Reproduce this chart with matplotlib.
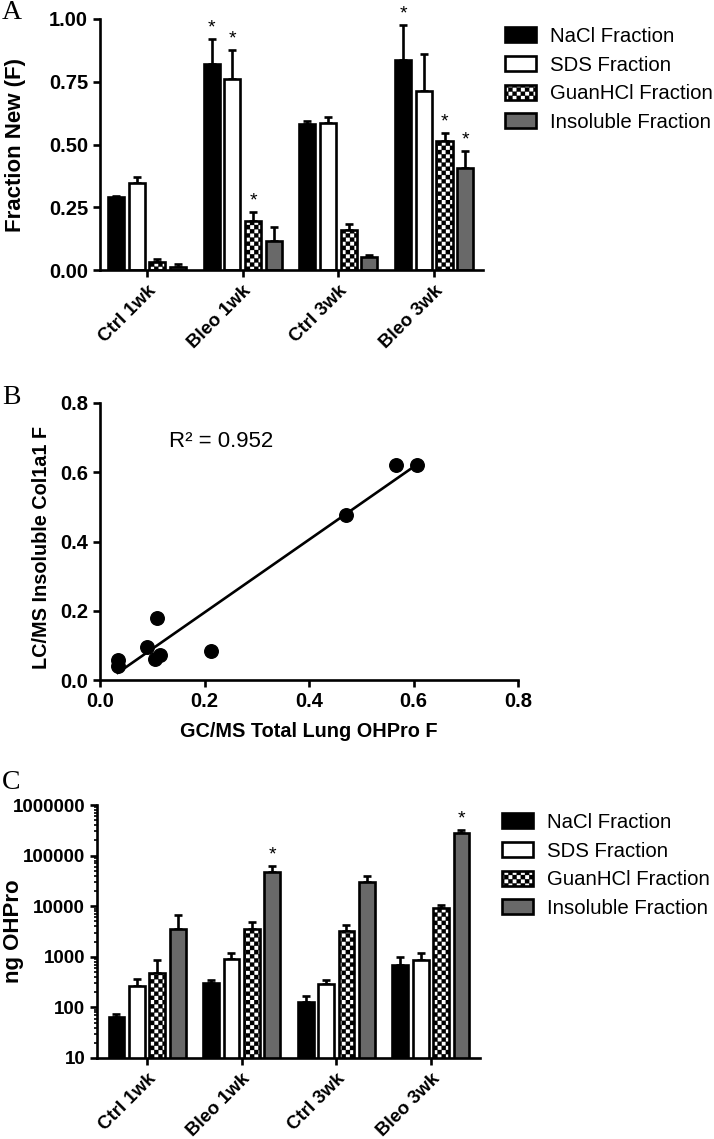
import numpy as np
import matplotlib
matplotlib.use("Agg")
import matplotlib.pyplot as plt
import matplotlib.hatch as mhatch
from matplotlib.path import Path
from matplotlib.ticker import FixedLocator, FuncFormatter, LogLocator, NullFormatter

# ---------------- data ----------------
groups = ["Ctrl 1wk", "Bleo 1wk", "Ctrl 3wk", "Bleo 3wk"]
fractions = ["NaCl Fraction", "SDS Fraction", "GuanHCl Fraction", "Insoluble Fraction"]

# Panel A: fraction new (F)
a_nacl = [0.29, 0.82, 0.58, 0.835]
a_sds = [0.345, 0.76, 0.585, 0.715]
a_guan = [0.03, 0.195, 0.16, 0.515]
a_insol = [0.012, 0.115, 0.052, 0.405]
a_nacl_err = [0.005, 0.10, 0.015, 0.14]
a_sds_err = [0.025, 0.115, 0.025, 0.145]
a_guan_err = [0.012, 0.035, 0.022, 0.03]
a_insol_err = [0.01, 0.055, 0.008, 0.07]
a_sig = [[False, True, False, True],   # NaCl
         [False, True, False, False],  # SDS
         [False, True, False, True],   # GuanHCl
         [False, False, False, True]]  # Insoluble

# Panel B: scatter
b_x = [0.034, 0.034, 0.09, 0.105, 0.114, 0.109, 0.213, 0.47, 0.566, 0.606]
b_y = [0.040, 0.058, 0.095, 0.062, 0.073, 0.178, 0.085, 0.476, 0.622, 0.620]
b_r2 = 0.952

# Panel C: ng OHPro
c_nacl = [65, 300, 125, 680]
c_sds = [270, 920, 295, 850]
c_guan = [470, 3600, 3200, 9300]
c_insol = [3500, 48000, 29500, 275000]
c_nacl_err = [10, 50, 40, 300]
c_sds_err = [100, 250, 50, 320]
c_guan_err = [380, 1200, 1100, 1500]
c_insol_err = [3300, 15000, 10000, 40000]
c_sig = [[False, False, False, False],
         [False, False, False, False],
         [False, False, False, False],
         [False, True, False, True]]

c_ticks = [10, 100, 1000, 10000, 100000, 1000000]


# ---------------- checkerboard hatch ----------------
class CheckerHatch(mhatch.HatchPatternBase):
    def __init__(self, hatch, density):
        self.n = 24 if "x" in hatch else 0
        self.num_vertices = (self.n * self.n // 2) * 5

    def set_vertices_and_codes(self, vertices, codes):
        s = 1.0 / self.n
        vs = []
        for i in range(self.n):
            for j in range(self.n):
                if (i + j) % 2 == 0:
                    x0, y0 = i * s, j * s
                    vs += [(x0, y0), (x0 + s, y0), (x0 + s, y0 + s), (x0, y0 + s), (x0, y0)]
        vertices[:] = np.array(vs)
        codes[:] = np.tile([Path.MOVETO, Path.LINETO, Path.LINETO, Path.LINETO, Path.CLOSEPOLY],
                           len(vs) // 5)


mhatch._hatch_types = [CheckerHatch]

plt.rcParams["font.family"] = ["Liberation Sans", "DejaVu Sans"]
plt.rcParams["font.weight"] = "bold"
plt.rcParams["hatch.linewidth"] = 0.2
plt.rcParams["hatch.color"] = "black"

W, H = 714, 1139
fig = plt.figure(figsize=(W / 100, H / 100), dpi=100)

LW = 1.9
styles = [dict(color="black", hatch=None),
          dict(color="white", hatch=None),
          dict(color="white", hatch="x"),
          dict(color="#696969", hatch=None)]


def ax_rect(l, t, r, b):
    return [l / W, 1 - b / H, (r - l) / W, (b - t) / H]


def style_axes(ax):
    for s in ["top", "right"]:
        ax.spines[s].set_visible(False)
    for s in ["left", "bottom"]:
        ax.spines[s].set_linewidth(LW)
    ax.tick_params(which="major", width=LW, length=5, direction="out")


def bar_panel(ax, series, errs, sigs):
    x = np.arange(len(groups))
    pitch = 0.216
    width = 0.168
    handles = []
    for k, (vals, err) in enumerate(zip(series, errs)):
        pos = x + (k - 1.5) * pitch
        st = styles[k]
        ax.errorbar(pos, vals, yerr=[np.zeros(len(vals)), err], fmt="none",
                    ecolor="black", elinewidth=LW, capsize=2.9, capthick=LW, zorder=1)
        b = ax.bar(pos, vals, width=width, color=st["color"], edgecolor="black",
                   linewidth=LW, hatch=st["hatch"], zorder=2, label=fractions[k])
        handles.append(b)
        for i in range(len(vals)):
            if sigs[k][i]:
                ax.annotate("*", (pos[i], vals[i] + err[i]), xytext=(0, 2),
                            textcoords="offset points", ha="center", va="bottom",
                            fontsize=14, fontweight="normal")
    ax.set_xticks(x)
    ax.set_xticklabels(groups, rotation=45, ha="right", va="top",
                       rotation_mode="anchor", fontsize=13.5, fontweight="bold")
    ax.tick_params(axis="x", pad=4)
    return handles


leg_kw = dict(loc="upper left", frameon=False,
              prop={"size": 14.7, "weight": "normal"},
              handlelength=1.5, handleheight=0.75, handletextpad=0.7,
              labelspacing=0.47, borderpad=0, borderaxespad=0)

# ---------------- Panel A ----------------
axA = fig.add_axes(ax_rect(100, 19, 483, 270))
style_axes(axA)
hA = bar_panel(axA, [a_nacl, a_sds, a_guan, a_insol],
               [a_nacl_err, a_sds_err, a_guan_err, a_insol_err], a_sig)
axA.set_xlim(-0.49, 3.51)
axA.set_ylim(0, 1.0)
axA.set_yticks([0, 0.25, 0.5, 0.75, 1.0])
axA.yaxis.set_major_formatter(FuncFormatter(lambda v, p: f"{v:.2f}"))
axA.tick_params(axis="y", labelsize=14.5)
axA.set_ylabel("Fraction New (F)", fontsize=16, fontweight="bold")
axA.yaxis.set_label_coords(-0.193, 0.5)
fig.legend(handles=hA, labels=fractions, bbox_to_anchor=(505 / W, 1 - 27 / H), **leg_kw)

# ---------------- Panel B ----------------
axB = fig.add_axes(ax_rect(100, 403, 518, 680))
style_axes(axB)
axB.scatter(b_x, b_y, s=95, color="black", zorder=3, clip_on=False)
slope, icpt = np.polyfit(b_x, b_y, 1)
xl = np.array([min(b_x), max(b_x)])
axB.plot(xl, slope * xl + icpt, color="black", lw=LW, zorder=2)
axB.set_xlim(0, 0.8)
axB.set_ylim(0, 0.8)
axB.set_xticks([0, 0.2, 0.4, 0.6, 0.8])
axB.set_yticks([0, 0.2, 0.4, 0.6, 0.8])
axB.xaxis.set_major_formatter(FuncFormatter(lambda v, p: f"{v:.1f}"))
axB.yaxis.set_major_formatter(FuncFormatter(lambda v, p: f"{v:.1f}"))
axB.tick_params(axis="both", labelsize=14.5)
axB.set_xlabel("GC/MS Total Lung OHPro F", fontsize=14.3, fontweight="bold", labelpad=8)
axB.set_ylabel("LC/MS Insoluble Col1a1 F", fontsize=14.3, fontweight="bold")
axB.yaxis.set_label_coords(-0.118, 0.48)
axB.text(0.133, 0.69, f"R\u00b2 = {b_r2:.3f}", fontsize=16, fontweight="normal",
         ha="left", va="center")

# ---------------- Panel C ----------------
axC = fig.add_axes(ax_rect(97, 805, 480, 1058))
style_axes(axC)
axC.set_yscale("log")
hC = bar_panel(axC, [c_nacl, c_sds, c_guan, c_insol],
               [c_nacl_err, c_sds_err, c_guan_err, c_insol_err], c_sig)
axC.set_xlim(-0.53, 3.52)
axC.set_ylim(10, 1e6)
axC.yaxis.set_major_locator(FixedLocator(c_ticks))
axC.yaxis.set_minor_locator(LogLocator(base=10, subs=np.arange(2, 10)))
axC.yaxis.set_minor_formatter(NullFormatter())
axC.yaxis.set_major_formatter(FuncFormatter(lambda v, p: f"{int(round(v))}"))
axC.tick_params(axis="y", which="minor", width=1.2, length=2.5)
axC.tick_params(axis="y", which="major", labelsize=13.5)
axC.set_ylabel("ng OHPro", fontsize=16, fontweight="bold")
axC.yaxis.set_label_coords(-0.19, 0.5)
fig.legend(handles=hC, labels=fractions, bbox_to_anchor=(502 / W, 1 - 813 / H), **leg_kw)

# panel letters
for letter, ytop in [("A", 0), ("B", 385), ("C", 770)]:
    fig.text(2 / W, 1 - ytop / H, letter, fontsize=20, va="top", ha="left",
             fontweight="normal", family=["Liberation Serif", "DejaVu Serif"])

fig.savefig("out.png", dpi=100)
